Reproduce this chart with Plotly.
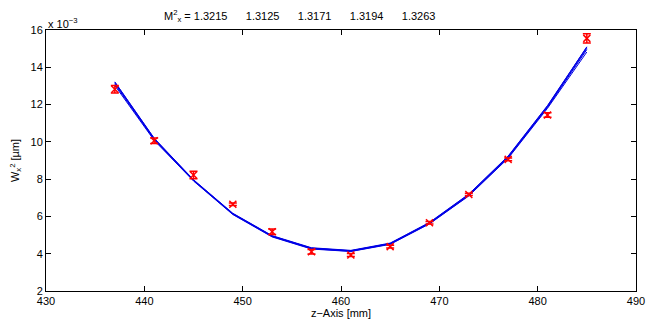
import plotly.graph_objects as go

# data (W^2 values in units of 1e-3)
z_mm = [437, 441, 445, 449, 453, 457, 461, 465, 469, 473, 477, 481, 485]
w2_meas = [12.82, 10.06, 8.22, 6.65, 5.18, 4.11, 3.93, 4.38, 5.66, 7.18, 9.06, 11.44, 15.55]
w2_err = [0.20, 0.15, 0.20, 0.07, 0.15, 0.12, 0.08, 0.08, 0.07, 0.06, 0.07, 0.12, 0.25]

fit_1 = [13.20, 10.18, 7.95, 6.15, 4.95, 4.30, 4.16, 4.55, 5.66, 7.18, 9.22, 11.92, 15.10]
fit_2 = [13.10, 10.12, 7.92, 6.12, 4.92, 4.27, 4.13, 4.52, 5.62, 7.12, 9.15, 11.85, 14.95]
fit_3 = [13.15, 10.15, 7.94, 6.14, 4.94, 4.29, 4.15, 4.54, 5.64, 7.15, 9.18, 11.88, 15.02]
fit_4 = [13.02, 10.08, 7.90, 6.10, 4.90, 4.25, 4.12, 4.50, 5.60, 7.10, 9.12, 11.80, 14.82]
fit_5 = [13.22, 10.20, 7.97, 6.17, 4.97, 4.32, 4.18, 4.57, 5.68, 7.20, 9.24, 11.95, 15.08]
fits = [fit_1, fit_2, fit_3, fit_4, fit_5]
m2_values = ["1.3215", "1.3125", "1.3171", "1.3194", "1.3263"]

x_ticks = [430, 440, 450, 460, 470, 480, 490]
y_ticks = [2, 4, 6, 8, 10, 12, 14, 16]

FONT = "Liberation Sans, Arial, Helvetica, sans-serif"

fig = go.Figure()
for f in fits:
    fig.add_trace(go.Scatter(x=z_mm, y=f, mode="lines",
                             line=dict(color="#0000e6", width=1), showlegend=False))

fig.add_trace(go.Scatter(
    x=z_mm, y=w2_meas, mode="markers",
    marker=dict(symbol="x-thin", size=7, line=dict(color="#ff0000", width=1.5), color="#ff0000"),
    error_y=dict(type="data", array=w2_err, visible=True, color="#ff0000", thickness=1.5, width=4),
    showlegend=False))

axis_common = dict(showgrid=False, zeroline=False, showline=True, linecolor="#000000",
                   linewidth=1, mirror="ticks", ticks="inside", ticklen=5, automargin=False,
                   tickcolor="#000000", tickfont=dict(family=FONT, size=11, color="#000000"))

fig.update_layout(
    width=650, height=326,
    margin=dict(l=46, r=14, t=30, b=35),
    paper_bgcolor="white", plot_bgcolor="white",
    font=dict(family=FONT, size=11, color="#000000"),
    xaxis=dict(range=[430, 490], tickvals=x_ticks, **axis_common,
               title=dict(text="z\u2212Axis [mm]", standoff=2, font=dict(size=11))),
    yaxis=dict(range=[2, 16], tickvals=y_ticks, **axis_common,
               title=dict(text="W<sub>x</sub><sup>2</sup> [\u00b5m]", standoff=8, font=dict(size=11))),
)

title_txt = "M<sup>2</sup><sub>x</sub> = " + "      ".join(m2_values)
fig.add_annotation(text=title_txt, xref="paper", yref="paper", x=(162 - 46) / 590, y=1,
                   yshift=14, xanchor="left", yanchor="middle", showarrow=False,
                   font=dict(family=FONT, size=11))
fig.add_annotation(text="x 10<sup>\u22123</sup>", xref="paper", yref="paper", x=0, y=1,
                   yshift=7, xanchor="left", yanchor="middle", showarrow=False,
                   font=dict(family=FONT, size=11))

fig.write_html("out.html", config={"displayModeBar": False},
               post_script="document.body.style.margin='0';")
